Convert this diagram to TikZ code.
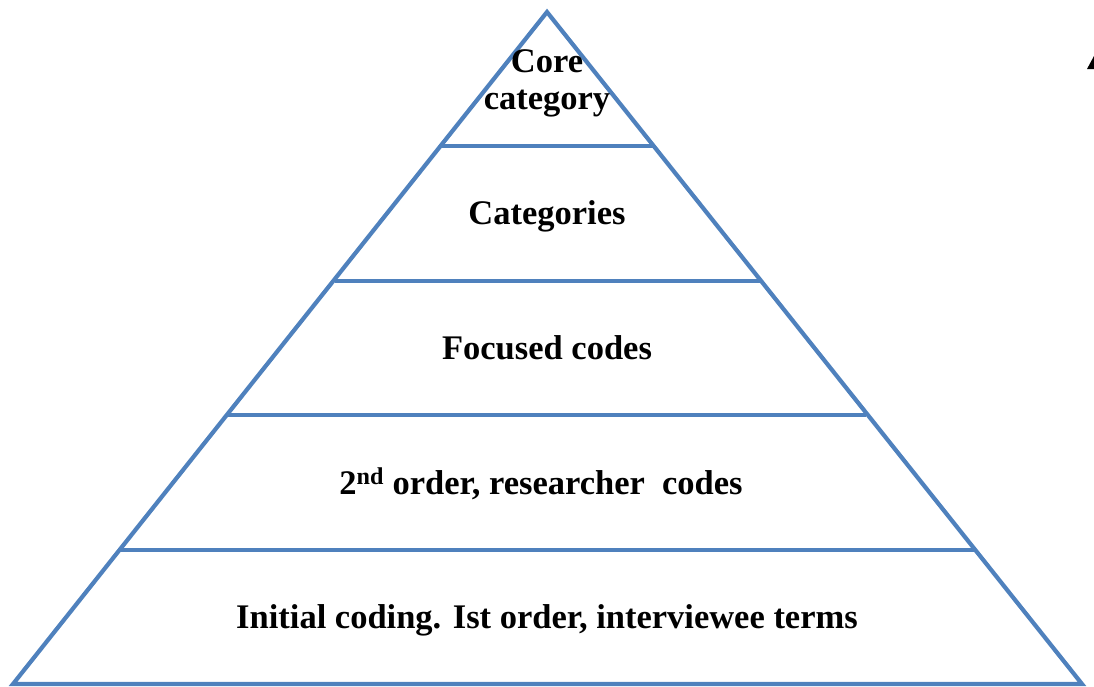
\documentclass[tikz,border=0pt]{standalone}
\usepackage{fontspec}
\setmainfont{Liberation Serif}
\definecolor{tierblue}{RGB}{79,129,189}
\begin{document}
\begin{tikzpicture}[x=1pt,y=-1pt,
  tier/.style={draw=tierblue,line width=4.2pt},
  lbl/.style={anchor=base,inner sep=0pt,font=\fontsize{34.5}{38}\selectfont\bfseries,align=center}]
\useasboundingbox (0,0) rectangle (1094,686);
% pyramid outline and level corners
\coordinate (apex) at (547,12);
\coordinate (l1) at (442,146); \coordinate (r1) at (653,146);
\coordinate (l2) at (335,281); \coordinate (r2) at (760,281);
\coordinate (l3) at (228,415); \coordinate (r3) at (866,415);
\coordinate (l4) at (121,550); \coordinate (r4) at (974,550);
\coordinate (l5) at (13,684);  \coordinate (r5) at (1082,684);
\draw[tier,line join=miter] (apex) -- (l5) -- (r5) -- cycle;
\draw[tier] (l1) -- (r1);
\draw[tier] (l2) -- (r2);
\draw[tier] (l3) -- (r3);
\draw[tier] (l4) -- (r4);
% level labels
\node[lbl] (core) at (547,72) {Core};
\node[lbl] (corecat) at (547,109) {category};
\node[lbl] (cats) at (547,224) {Categories};
\node[lbl] (focus) at (547,359) {Focused codes};
\node[lbl] (second) at (541,494) {2\textsuperscript{nd} order, researcher\hspace{0.25em} codes};
\node[lbl] (initial) at (547,628) {Initial coding. Ist order, interviewee terms};
% dark wedge at the right edge
\fill[black] (1087,69) -- (1094,69) -- (1094,56) -- cycle;
\end{tikzpicture}
\end{document}
